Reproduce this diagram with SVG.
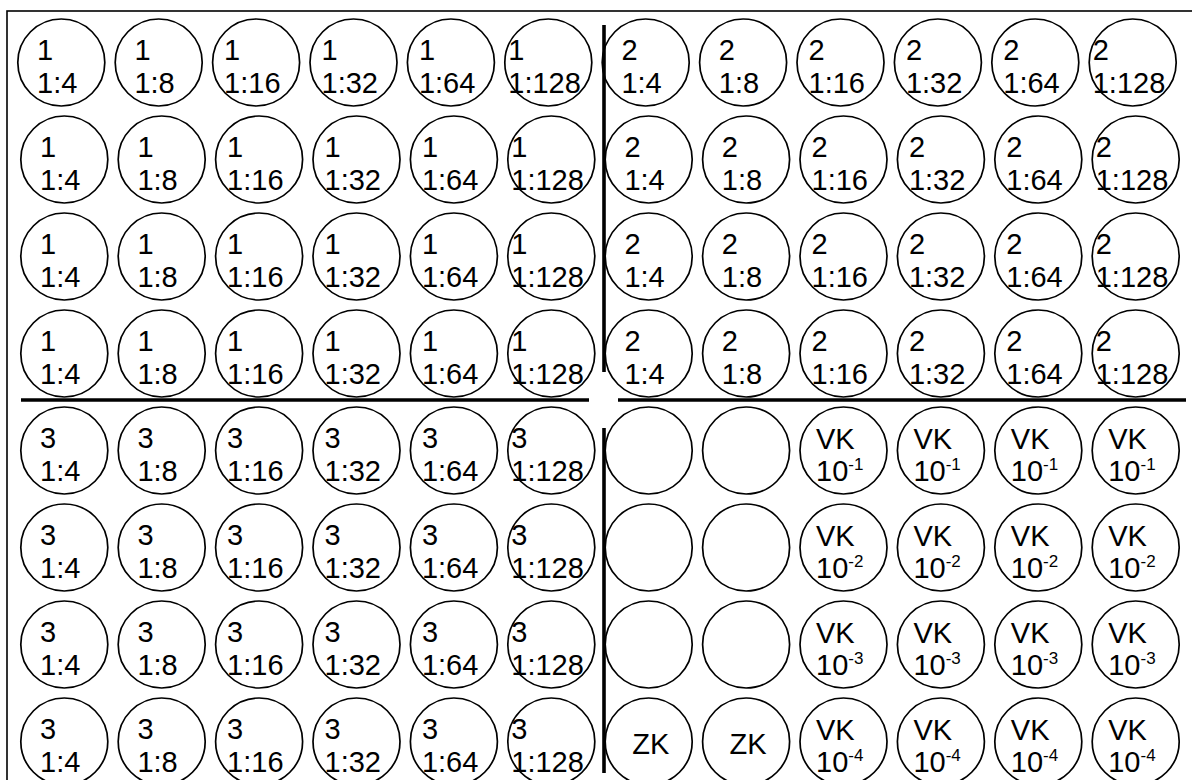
<svg xmlns="http://www.w3.org/2000/svg" width="1192" height="780" viewBox="0 0 1192 780">
<style>
.w{fill:#fff;stroke:#000;stroke-width:1.7}
.t{font-family:"Liberation Sans",Arial,sans-serif;font-size:29px;fill:#000}
.s{font-size:17px}
.d{stroke:#000;stroke-width:3.6;fill:none}
.b{fill:#fff;stroke:#000;stroke-width:1.6}
</style>
<rect class="b" x="7" y="11" width="1200" height="800"/>
<g id="wells">
<g id="r1c1" transform="translate(61.3,62.5)"><circle class="w" r="43.5"/><text class="t" x="-24.3" y="-3">1<tspan x="-24.3" y="30.5">1:4</tspan></text></g>
<g id="r1c2" transform="translate(158.7,62.5)"><circle class="w" r="43.5"/><text class="t" x="-24.3" y="-3">1<tspan x="-24.3" y="30.5">1:8</tspan></text></g>
<g id="r1c3" transform="translate(256.1,62.5)"><circle class="w" r="43.5"/><text class="t" x="-32" y="-3">1<tspan x="-32" y="30.5">1:16</tspan></text></g>
<g id="r1c4" transform="translate(353.5,62.5)"><circle class="w" r="43.5"/><text class="t" x="-32" y="-3">1<tspan x="-32" y="30.5">1:32</tspan></text></g>
<g id="r1c5" transform="translate(450.9,62.5)"><circle class="w" r="43.5"/><text class="t" x="-32" y="-3">1<tspan x="-32" y="30.5">1:64</tspan></text></g>
<g id="r1c6" transform="translate(548.3,62.5)"><circle class="w" r="43.5"/><text class="t" x="-40" y="-3">1<tspan x="-40" y="30.5">1:128</tspan></text></g>
<g id="r1c7" transform="translate(645.7,62.5)"><circle class="w" r="43.5"/><text class="t" x="-24.3" y="-3">2<tspan x="-24.3" y="30.5">1:4</tspan></text></g>
<g id="r1c8" transform="translate(743.1,62.5)"><circle class="w" r="43.5"/><text class="t" x="-24.3" y="-3">2<tspan x="-24.3" y="30.5">1:8</tspan></text></g>
<g id="r1c9" transform="translate(840.5,62.5)"><circle class="w" r="43.5"/><text class="t" x="-32" y="-3">2<tspan x="-32" y="30.5">1:16</tspan></text></g>
<g id="r1c10" transform="translate(937.9,62.5)"><circle class="w" r="43.5"/><text class="t" x="-32" y="-3">2<tspan x="-32" y="30.5">1:32</tspan></text></g>
<g id="r1c11" transform="translate(1035.3,62.5)"><circle class="w" r="43.5"/><text class="t" x="-32" y="-3">2<tspan x="-32" y="30.5">1:64</tspan></text></g>
<g id="r1c12" transform="translate(1132.7,62.5)"><circle class="w" r="43.5"/><text class="t" x="-40" y="-3">2<tspan x="-40" y="30.5">1:128</tspan></text></g>

<g id="r2c1" transform="translate(64.3,159.5)"><circle class="w" r="43.5"/><text class="t" x="-24.3" y="-3">1<tspan x="-24.3" y="30.5">1:4</tspan></text></g>
<g id="r2c2" transform="translate(161.7,159.5)"><circle class="w" r="43.5"/><text class="t" x="-24.3" y="-3">1<tspan x="-24.3" y="30.5">1:8</tspan></text></g>
<g id="r2c3" transform="translate(259.1,159.5)"><circle class="w" r="43.5"/><text class="t" x="-32" y="-3">1<tspan x="-32" y="30.5">1:16</tspan></text></g>
<g id="r2c4" transform="translate(356.5,159.5)"><circle class="w" r="43.5"/><text class="t" x="-32" y="-3">1<tspan x="-32" y="30.5">1:32</tspan></text></g>
<g id="r2c5" transform="translate(453.9,159.5)"><circle class="w" r="43.5"/><text class="t" x="-32" y="-3">1<tspan x="-32" y="30.5">1:64</tspan></text></g>
<g id="r2c6" transform="translate(551.3,159.5)"><circle class="w" r="43.5"/><text class="t" x="-40" y="-3">1<tspan x="-40" y="30.5">1:128</tspan></text></g>
<g id="r2c7" transform="translate(648.7,159.5)"><circle class="w" r="43.5"/><text class="t" x="-24.3" y="-3">2<tspan x="-24.3" y="30.5">1:4</tspan></text></g>
<g id="r2c8" transform="translate(746.1,159.5)"><circle class="w" r="43.5"/><text class="t" x="-24.3" y="-3">2<tspan x="-24.3" y="30.5">1:8</tspan></text></g>
<g id="r2c9" transform="translate(843.5,159.5)"><circle class="w" r="43.5"/><text class="t" x="-32" y="-3">2<tspan x="-32" y="30.5">1:16</tspan></text></g>
<g id="r2c10" transform="translate(940.9,159.5)"><circle class="w" r="43.5"/><text class="t" x="-32" y="-3">2<tspan x="-32" y="30.5">1:32</tspan></text></g>
<g id="r2c11" transform="translate(1038.3,159.5)"><circle class="w" r="43.5"/><text class="t" x="-32" y="-3">2<tspan x="-32" y="30.5">1:64</tspan></text></g>
<g id="r2c12" transform="translate(1135.7,159.5)"><circle class="w" r="43.5"/><text class="t" x="-40" y="-3">2<tspan x="-40" y="30.5">1:128</tspan></text></g>

<g id="r3c1" transform="translate(64.3,256.5)"><circle class="w" r="43.5"/><text class="t" x="-24.3" y="-3">1<tspan x="-24.3" y="30.5">1:4</tspan></text></g>
<g id="r3c2" transform="translate(161.7,256.5)"><circle class="w" r="43.5"/><text class="t" x="-24.3" y="-3">1<tspan x="-24.3" y="30.5">1:8</tspan></text></g>
<g id="r3c3" transform="translate(259.1,256.5)"><circle class="w" r="43.5"/><text class="t" x="-32" y="-3">1<tspan x="-32" y="30.5">1:16</tspan></text></g>
<g id="r3c4" transform="translate(356.5,256.5)"><circle class="w" r="43.5"/><text class="t" x="-32" y="-3">1<tspan x="-32" y="30.5">1:32</tspan></text></g>
<g id="r3c5" transform="translate(453.9,256.5)"><circle class="w" r="43.5"/><text class="t" x="-32" y="-3">1<tspan x="-32" y="30.5">1:64</tspan></text></g>
<g id="r3c6" transform="translate(551.3,256.5)"><circle class="w" r="43.5"/><text class="t" x="-40" y="-3">1<tspan x="-40" y="30.5">1:128</tspan></text></g>
<g id="r3c7" transform="translate(648.7,256.5)"><circle class="w" r="43.5"/><text class="t" x="-24.3" y="-3">2<tspan x="-24.3" y="30.5">1:4</tspan></text></g>
<g id="r3c8" transform="translate(746.1,256.5)"><circle class="w" r="43.5"/><text class="t" x="-24.3" y="-3">2<tspan x="-24.3" y="30.5">1:8</tspan></text></g>
<g id="r3c9" transform="translate(843.5,256.5)"><circle class="w" r="43.5"/><text class="t" x="-32" y="-3">2<tspan x="-32" y="30.5">1:16</tspan></text></g>
<g id="r3c10" transform="translate(940.9,256.5)"><circle class="w" r="43.5"/><text class="t" x="-32" y="-3">2<tspan x="-32" y="30.5">1:32</tspan></text></g>
<g id="r3c11" transform="translate(1038.3,256.5)"><circle class="w" r="43.5"/><text class="t" x="-32" y="-3">2<tspan x="-32" y="30.5">1:64</tspan></text></g>
<g id="r3c12" transform="translate(1135.7,256.5)"><circle class="w" r="43.5"/><text class="t" x="-40" y="-3">2<tspan x="-40" y="30.5">1:128</tspan></text></g>

<g id="r4c1" transform="translate(64.3,353.5)"><circle class="w" r="43.5"/><text class="t" x="-24.3" y="-3">1<tspan x="-24.3" y="30.5">1:4</tspan></text></g>
<g id="r4c2" transform="translate(161.7,353.5)"><circle class="w" r="43.5"/><text class="t" x="-24.3" y="-3">1<tspan x="-24.3" y="30.5">1:8</tspan></text></g>
<g id="r4c3" transform="translate(259.1,353.5)"><circle class="w" r="43.5"/><text class="t" x="-32" y="-3">1<tspan x="-32" y="30.5">1:16</tspan></text></g>
<g id="r4c4" transform="translate(356.5,353.5)"><circle class="w" r="43.5"/><text class="t" x="-32" y="-3">1<tspan x="-32" y="30.5">1:32</tspan></text></g>
<g id="r4c5" transform="translate(453.9,353.5)"><circle class="w" r="43.5"/><text class="t" x="-32" y="-3">1<tspan x="-32" y="30.5">1:64</tspan></text></g>
<g id="r4c6" transform="translate(551.3,353.5)"><circle class="w" r="43.5"/><text class="t" x="-40" y="-3">1<tspan x="-40" y="30.5">1:128</tspan></text></g>
<g id="r4c7" transform="translate(648.7,353.5)"><circle class="w" r="43.5"/><text class="t" x="-24.3" y="-3">2<tspan x="-24.3" y="30.5">1:4</tspan></text></g>
<g id="r4c8" transform="translate(746.1,353.5)"><circle class="w" r="43.5"/><text class="t" x="-24.3" y="-3">2<tspan x="-24.3" y="30.5">1:8</tspan></text></g>
<g id="r4c9" transform="translate(843.5,353.5)"><circle class="w" r="43.5"/><text class="t" x="-32" y="-3">2<tspan x="-32" y="30.5">1:16</tspan></text></g>
<g id="r4c10" transform="translate(940.9,353.5)"><circle class="w" r="43.5"/><text class="t" x="-32" y="-3">2<tspan x="-32" y="30.5">1:32</tspan></text></g>
<g id="r4c11" transform="translate(1038.3,353.5)"><circle class="w" r="43.5"/><text class="t" x="-32" y="-3">2<tspan x="-32" y="30.5">1:64</tspan></text></g>
<g id="r4c12" transform="translate(1135.7,353.5)"><circle class="w" r="43.5"/><text class="t" x="-40" y="-3">2<tspan x="-40" y="30.5">1:128</tspan></text></g>

<g id="r5c1" transform="translate(64.3,450.5)"><circle class="w" r="43.5"/><text class="t" x="-24.3" y="-3">3<tspan x="-24.3" y="30.5">1:4</tspan></text></g>
<g id="r5c2" transform="translate(161.7,450.5)"><circle class="w" r="43.5"/><text class="t" x="-24.3" y="-3">3<tspan x="-24.3" y="30.5">1:8</tspan></text></g>
<g id="r5c3" transform="translate(259.1,450.5)"><circle class="w" r="43.5"/><text class="t" x="-32" y="-3">3<tspan x="-32" y="30.5">1:16</tspan></text></g>
<g id="r5c4" transform="translate(356.5,450.5)"><circle class="w" r="43.5"/><text class="t" x="-32" y="-3">3<tspan x="-32" y="30.5">1:32</tspan></text></g>
<g id="r5c5" transform="translate(453.9,450.5)"><circle class="w" r="43.5"/><text class="t" x="-32" y="-3">3<tspan x="-32" y="30.5">1:64</tspan></text></g>
<g id="r5c6" transform="translate(551.3,450.5)"><circle class="w" r="43.5"/><text class="t" x="-40" y="-3">3<tspan x="-40" y="30.5">1:128</tspan></text></g>
<g id="r5c7" transform="translate(648.7,450.5)"><circle class="w" r="43.5"/></g>
<g id="r5c8" transform="translate(746.1,450.5)"><circle class="w" r="43.5"/></g>
<g id="r5c9" transform="translate(843.5,450.5)"><circle class="w" r="43.5"/><text class="t" x="-27.5" y="-2">VK<tspan x="-27.5" y="30">10</tspan><tspan class="s" dy="-11">-1</tspan></text></g>
<g id="r5c10" transform="translate(940.9,450.5)"><circle class="w" r="43.5"/><text class="t" x="-27.5" y="-2">VK<tspan x="-27.5" y="30">10</tspan><tspan class="s" dy="-11">-1</tspan></text></g>
<g id="r5c11" transform="translate(1038.3,450.5)"><circle class="w" r="43.5"/><text class="t" x="-27.5" y="-2">VK<tspan x="-27.5" y="30">10</tspan><tspan class="s" dy="-11">-1</tspan></text></g>
<g id="r5c12" transform="translate(1135.7,450.5)"><circle class="w" r="43.5"/><text class="t" x="-27.5" y="-2">VK<tspan x="-27.5" y="30">10</tspan><tspan class="s" dy="-11">-1</tspan></text></g>

<g id="r6c1" transform="translate(64.3,547.5)"><circle class="w" r="43.5"/><text class="t" x="-24.3" y="-3">3<tspan x="-24.3" y="30.5">1:4</tspan></text></g>
<g id="r6c2" transform="translate(161.7,547.5)"><circle class="w" r="43.5"/><text class="t" x="-24.3" y="-3">3<tspan x="-24.3" y="30.5">1:8</tspan></text></g>
<g id="r6c3" transform="translate(259.1,547.5)"><circle class="w" r="43.5"/><text class="t" x="-32" y="-3">3<tspan x="-32" y="30.5">1:16</tspan></text></g>
<g id="r6c4" transform="translate(356.5,547.5)"><circle class="w" r="43.5"/><text class="t" x="-32" y="-3">3<tspan x="-32" y="30.5">1:32</tspan></text></g>
<g id="r6c5" transform="translate(453.9,547.5)"><circle class="w" r="43.5"/><text class="t" x="-32" y="-3">3<tspan x="-32" y="30.5">1:64</tspan></text></g>
<g id="r6c6" transform="translate(551.3,547.5)"><circle class="w" r="43.5"/><text class="t" x="-40" y="-3">3<tspan x="-40" y="30.5">1:128</tspan></text></g>
<g id="r6c7" transform="translate(648.7,547.5)"><circle class="w" r="43.5"/></g>
<g id="r6c8" transform="translate(746.1,547.5)"><circle class="w" r="43.5"/></g>
<g id="r6c9" transform="translate(843.5,547.5)"><circle class="w" r="43.5"/><text class="t" x="-27.5" y="-2">VK<tspan x="-27.5" y="30">10</tspan><tspan class="s" dy="-11">-2</tspan></text></g>
<g id="r6c10" transform="translate(940.9,547.5)"><circle class="w" r="43.5"/><text class="t" x="-27.5" y="-2">VK<tspan x="-27.5" y="30">10</tspan><tspan class="s" dy="-11">-2</tspan></text></g>
<g id="r6c11" transform="translate(1038.3,547.5)"><circle class="w" r="43.5"/><text class="t" x="-27.5" y="-2">VK<tspan x="-27.5" y="30">10</tspan><tspan class="s" dy="-11">-2</tspan></text></g>
<g id="r6c12" transform="translate(1135.7,547.5)"><circle class="w" r="43.5"/><text class="t" x="-27.5" y="-2">VK<tspan x="-27.5" y="30">10</tspan><tspan class="s" dy="-11">-2</tspan></text></g>

<g id="r7c1" transform="translate(64.3,644.5)"><circle class="w" r="43.5"/><text class="t" x="-24.3" y="-3">3<tspan x="-24.3" y="30.5">1:4</tspan></text></g>
<g id="r7c2" transform="translate(161.7,644.5)"><circle class="w" r="43.5"/><text class="t" x="-24.3" y="-3">3<tspan x="-24.3" y="30.5">1:8</tspan></text></g>
<g id="r7c3" transform="translate(259.1,644.5)"><circle class="w" r="43.5"/><text class="t" x="-32" y="-3">3<tspan x="-32" y="30.5">1:16</tspan></text></g>
<g id="r7c4" transform="translate(356.5,644.5)"><circle class="w" r="43.5"/><text class="t" x="-32" y="-3">3<tspan x="-32" y="30.5">1:32</tspan></text></g>
<g id="r7c5" transform="translate(453.9,644.5)"><circle class="w" r="43.5"/><text class="t" x="-32" y="-3">3<tspan x="-32" y="30.5">1:64</tspan></text></g>
<g id="r7c6" transform="translate(551.3,644.5)"><circle class="w" r="43.5"/><text class="t" x="-40" y="-3">3<tspan x="-40" y="30.5">1:128</tspan></text></g>
<g id="r7c7" transform="translate(648.7,644.5)"><circle class="w" r="43.5"/></g>
<g id="r7c8" transform="translate(746.1,644.5)"><circle class="w" r="43.5"/></g>
<g id="r7c9" transform="translate(843.5,644.5)"><circle class="w" r="43.5"/><text class="t" x="-27.5" y="-2">VK<tspan x="-27.5" y="30">10</tspan><tspan class="s" dy="-11">-3</tspan></text></g>
<g id="r7c10" transform="translate(940.9,644.5)"><circle class="w" r="43.5"/><text class="t" x="-27.5" y="-2">VK<tspan x="-27.5" y="30">10</tspan><tspan class="s" dy="-11">-3</tspan></text></g>
<g id="r7c11" transform="translate(1038.3,644.5)"><circle class="w" r="43.5"/><text class="t" x="-27.5" y="-2">VK<tspan x="-27.5" y="30">10</tspan><tspan class="s" dy="-11">-3</tspan></text></g>
<g id="r7c12" transform="translate(1135.7,644.5)"><circle class="w" r="43.5"/><text class="t" x="-27.5" y="-2">VK<tspan x="-27.5" y="30">10</tspan><tspan class="s" dy="-11">-3</tspan></text></g>

<g id="r8c1" transform="translate(64.3,741.5)"><circle class="w" r="43.5"/><text class="t" x="-24.3" y="-3">3<tspan x="-24.3" y="30.5">1:4</tspan></text></g>
<g id="r8c2" transform="translate(161.7,741.5)"><circle class="w" r="43.5"/><text class="t" x="-24.3" y="-3">3<tspan x="-24.3" y="30.5">1:8</tspan></text></g>
<g id="r8c3" transform="translate(259.1,741.5)"><circle class="w" r="43.5"/><text class="t" x="-32" y="-3">3<tspan x="-32" y="30.5">1:16</tspan></text></g>
<g id="r8c4" transform="translate(356.5,741.5)"><circle class="w" r="43.5"/><text class="t" x="-32" y="-3">3<tspan x="-32" y="30.5">1:32</tspan></text></g>
<g id="r8c5" transform="translate(453.9,741.5)"><circle class="w" r="43.5"/><text class="t" x="-32" y="-3">3<tspan x="-32" y="30.5">1:64</tspan></text></g>
<g id="r8c6" transform="translate(551.3,741.5)"><circle class="w" r="43.5"/><text class="t" x="-40" y="-3">3<tspan x="-40" y="30.5">1:128</tspan></text></g>
<g id="r8c7" transform="translate(648.7,741.5)"><circle class="w" r="43.5"/><text class="t" x="2" y="12.5" text-anchor="middle">ZK</text></g>
<g id="r8c8" transform="translate(746.1,741.5)"><circle class="w" r="43.5"/><text class="t" x="2" y="12.5" text-anchor="middle">ZK</text></g>
<g id="r8c9" transform="translate(843.5,741.5)"><circle class="w" r="43.5"/><text class="t" x="-27.5" y="-2">VK<tspan x="-27.5" y="30">10</tspan><tspan class="s" dy="-11">-4</tspan></text></g>
<g id="r8c10" transform="translate(940.9,741.5)"><circle class="w" r="43.5"/><text class="t" x="-27.5" y="-2">VK<tspan x="-27.5" y="30">10</tspan><tspan class="s" dy="-11">-4</tspan></text></g>
<g id="r8c11" transform="translate(1038.3,741.5)"><circle class="w" r="43.5"/><text class="t" x="-27.5" y="-2">VK<tspan x="-27.5" y="30">10</tspan><tspan class="s" dy="-11">-4</tspan></text></g>
<g id="r8c12" transform="translate(1135.7,741.5)"><circle class="w" r="43.5"/><text class="t" x="-27.5" y="-2">VK<tspan x="-27.5" y="30">10</tspan><tspan class="s" dy="-11">-4</tspan></text></g>
</g>
<g id="connectors">
<line class="d" x1="604" y1="25" x2="604" y2="372"/>
<line class="d" x1="604" y1="428" x2="604" y2="773"/>
<line class="d" x1="21" y1="400" x2="589" y2="400"/>
<line class="d" x1="618" y1="400" x2="1186" y2="400"/>
</g>
</svg>
